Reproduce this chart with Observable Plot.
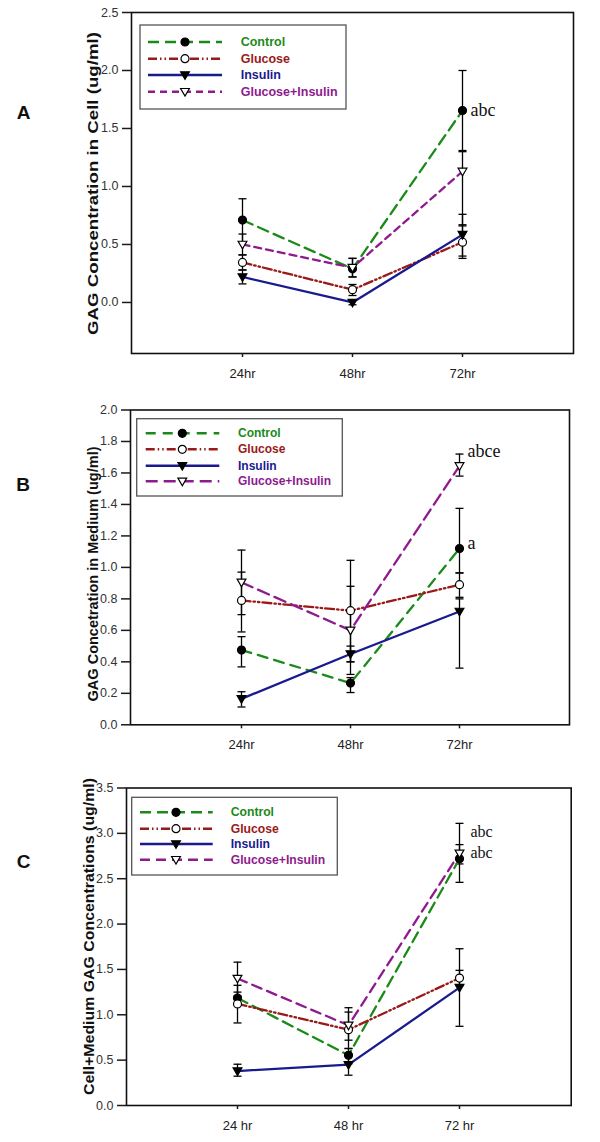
<!DOCTYPE html>
<html><head><meta charset="utf-8">
<script src="https://cdn.jsdelivr.net/npm/d3@7"></script>
<script src="https://cdn.jsdelivr.net/npm/@observablehq/plot@0.6"></script>
<style>
body{margin:0;background:#fff;font-family:Arial,"Liberation Sans",sans-serif;}
#page{position:relative;width:600px;height:1142px;overflow:hidden;background:#fff;}
.panel{position:absolute;left:0;}
.letter{position:absolute;font:bold 19px Arial,"Liberation Sans",sans-serif;color:#111;transform:translate(-50%,-50%);}
</style></head><body><div id="page"></div>
<script>
// ---------- DATA ----------
const groups = ["Control", "Glucose", "Insulin", "Glucose+Insulin"];
const timesAB = ["24hr", "48hr", "72hr"];
const timesC = ["24 hr", "48 hr", "72 hr"];

// Panel A: GAG in cell (rows = groups, cols = times)
const cellMean = [[0.71, 0.29, 1.655], [0.345, 0.11, 0.52], [0.22, 0.0, 0.585], [0.50, 0.30, 1.13]];
const cellLow  = [[0.52, 0.22, 1.31], [0.28, 0.06, 0.38], [0.16, -0.02, 0.40], [0.41, 0.22, 0.66]];
const cellHigh = [[0.894, 0.38, 2.0], [0.41, 0.155, 0.67], [0.28, 0.02, 0.76], [0.59, 0.38, 1.30]];
const cellNotes = [{time: "72hr", value: 1.655, label: "abc"}];

// Panel B: GAG in medium
const medMean = [[0.475, 0.265, 1.12], [0.79, 0.725, 0.89], [0.165, 0.45, 0.72], [0.905, 0.60, 1.645]];
const medLow  = [[0.368, 0.205, 0.965], [0.59, 0.40, 0.81], [0.113, 0.40, 0.36], [0.70, 0.32, 1.58]];
const medHigh = [[0.56, 0.30, 1.375], [0.97, 1.045, 0.965], [0.21, 0.50, 0.80], [1.11, 0.88, 1.72]];
const medNotes = [{time: "72hr", value: 1.74, label: "abce"}, {time: "72hr", value: 1.155, label: "a"}];

// Panel C: cell + medium
const totMean = [[1.185, 0.554, 2.72], [1.12, 0.836, 1.405], [0.38, 0.45, 1.30], [1.40, 0.884, 2.78]];
const totLow  = [[1.12, 0.46, 2.663], [0.91, 0.63, 1.32], [0.323, 0.334, 0.873], [1.207, 0.72, 2.46]];
const totHigh = [[1.25, 0.627, 2.876], [1.325, 1.03, 1.49], [0.455, 0.56, 1.728], [1.58, 1.078, 3.11]];
const totNotes = [{time: "72 hr", value: 3.015, label: "abc"}, {time: "72 hr", value: 2.79, label: "abc"}];

const ticksA = [0, 0.5, 1.0, 1.5, 2.0, 2.5];
const ticksB = [0, 0.2, 0.4, 0.6, 0.8, 1.0, 1.2, 1.4, 1.6, 1.8, 2.0];
const ticksC = [0, 0.5, 1.0, 1.5, 2.0, 2.5, 3.0, 3.5];

// ---------- STYLE ----------
const downTri = {draw(ctx, size) { const r = Math.sqrt(size / Math.PI); const w = r * 1.1, h1 = r * 0.8, h2 = r * 1.1;
  ctx.moveTo(-w, -h1); ctx.lineTo(w, -h1); ctx.lineTo(0, h2); ctx.closePath(); }};
const capSym = {draw(ctx, size) { const r = Math.sqrt(size / Math.PI); ctx.moveTo(-r, 0); ctx.lineTo(r, 0); }};
const gStyle = {
  "Control":         {color: "#1b8a1b", symbol: "circle", fill: "#000"},
  "Glucose":         {color: "#9a1a1a", symbol: "circle", fill: "#fff"},
  "Insulin":         {color: "#1a1a8f", symbol: downTri, fill: "#000"},
  "Glucose+Insulin": {color: "#8e1b8e", symbol: downTri, fill: "#fff"}
};
const FONT = 'Arial, "Liberation Sans", sans-serif';

function build(times, mean, low, high) {
  const rows = [];
  groups.forEach((g, i) => times.forEach((t, j) => rows.push({group: g, time: t, value: mean[i][j], lo: low[i][j], hi: high[i][j]})));
  return rows;
}

const page = document.getElementById("page");

function panel(cfg) {
  const rows = build(cfg.times, cfg.mean, cfg.low, cfg.high);
  const marks = [
    Plot.frame({stroke: "#111", strokeWidth: 1.6}),
    Plot.axisX({tickSize: 4, tickPadding: 11, fontSize: 13, label: null, strokeWidth: 1.5, fill: "#222"}),
    Plot.axisY({ticks: cfg.yTicks, tickFormat: d3.format(".1f"), tickSize: 9, tickPadding: 4, fontSize: 12.5, label: null, strokeWidth: 1.5, fill: "#333"}),
    Plot.ruleX(rows, {x: "time", y1: "lo", y2: "hi", stroke: "#000", strokeWidth: 1.3}),
    Plot.dot(rows, {x: "time", y: "lo", symbol: capSym, r: 4, stroke: "#000", fill: "none", strokeWidth: 1.3}),
    Plot.dot(rows, {x: "time", y: "hi", symbol: capSym, r: 4, stroke: "#000", fill: "none", strokeWidth: 1.3})
  ];
  groups.forEach(g => marks.push(Plot.line(rows.filter(r => r.group === g),
    {x: "time", y: "value", stroke: gStyle[g].color, strokeWidth: 2.3, strokeDasharray: cfg.dashes[g]})));
  groups.forEach(g => marks.push(Plot.dot(rows.filter(r => r.group === g),
    {x: "time", y: "value", symbol: gStyle[g].symbol, r: 4, fill: gStyle[g].fill, stroke: "#000", strokeWidth: 1.2})));
  marks.push(Plot.text(cfg.notes, {x: "time", y: "value", text: "label", dx: cfg.noteDx, textAnchor: "start", lineAnchor: "middle",
    fontFamily: '"Times New Roman", "Liberation Serif", serif', fontSize: cfg.noteSize, fill: "#111"}));

  const svg = Plot.plot({
    width: 600, height: cfg.height,
    marginTop: cfg.mTop, marginBottom: cfg.mBottom, marginLeft: cfg.mLeft, marginRight: cfg.mRight,
    style: {fontFamily: FONT, color: "#1a1a1a", background: "transparent", overflow: "visible"},
    x: {type: "point", domain: cfg.times, padding: 1, label: null},
    y: {domain: cfg.yDomain, label: null},
    marks
  });
  svg.classList.add("panel");
  svg.style.top = cfg.top + "px";
  const s = d3.select(svg);
  // y-axis title
  s.append("text")
    .attr("transform", `translate(${cfg.titleX},${cfg.titleY - cfg.top}) rotate(-90)`)
    .attr("text-anchor", "middle").attr("dominant-baseline", "central")
    .attr("font-weight", "bold").attr("font-size", cfg.titleSize).attr("fill", "#111")
    .attr("textLength", cfg.titleLen).attr("lengthAdjust", "spacingAndGlyphs")
    .text(cfg.title);
  // legend
  const L = cfg.legend, g = s.append("g").attr("transform", `translate(0,${-cfg.top})`);
  g.append("rect").attr("x", L.x0).attr("y", L.y0).attr("width", L.x1 - L.x0).attr("height", L.y1 - L.y0)
    .attr("fill", "#fff").attr("stroke", "#555").attr("stroke-width", 1.3);
  groups.forEach((name, i) => {
    const y = L.ys[i], st = gStyle[name];
    g.append("line").attr("x1", L.lx0).attr("x2", L.lx1).attr("y1", y).attr("y2", y)
      .attr("stroke", st.color).attr("stroke-width", 2.5).attr("stroke-dasharray", cfg.dashes[name] || null);
    g.append("path").attr("transform", `translate(${L.mx},${y})`)
      .attr("d", d3.symbol().type(st.symbol === "circle" ? d3.symbolCircle : st.symbol).size(Math.PI * 16)())
      .attr("fill", st.fill).attr("stroke", "#000").attr("stroke-width", 1.2);
    g.append("text").attr("x", L.tx).attr("y", y).attr("dominant-baseline", "central").attr("text-anchor", "start")
      .attr("font-weight", "bold").attr("font-size", L.fs).attr("fill", st.color).text(name);
  });
  page.appendChild(svg);
  const lt = document.createElement("div");
  lt.className = "letter"; lt.textContent = cfg.letter;
  lt.style.left = cfg.letterX + "px"; lt.style.top = cfg.letterY + "px";
  page.appendChild(lt);
}

panel({
  letter: "A", letterX: 23.5, letterY: 112.5,
  top: 0, height: 385, mTop: 12, mBottom: 32, mLeft: 131, mRight: 27,
  times: timesAB, mean: cellMean, low: cellLow, high: cellHigh, notes: cellNotes, noteDx: 8, noteSize: 18,
  yDomain: [-0.44, 2.5], yTicks: ticksA,
  dashes: {"Control": "11,6", "Glucose": "9,3,1.5,3,1.5,3", "Insulin": null, "Glucose+Insulin": "7,5"},
  title: "GAG Concentration in Cell (ug/ml)", titleX: 92.5, titleY: 183.5, titleSize: 15, titleLen: 303,
  legend: {x0: 140, x1: 346, y0: 25, y1: 109, ys: [42, 58.7, 75, 91.7], lx0: 148, lx1: 222, mx: 185, tx: 240.7, fs: 12.5}
});
panel({
  letter: "B", letterX: 23, letterY: 484.5,
  top: 385, height: 372, mTop: 24.5, mBottom: 32.7, mLeft: 130, mRight: 31,
  times: timesAB, mean: medMean, low: medLow, high: medHigh, notes: medNotes, noteDx: 8, noteSize: 18,
  yDomain: [0, 2.0], yTicks: ticksB,
  dashes: {"Control": "10,7", "Glucose": "9,3,1.5,3,1.5,3", "Insulin": null, "Glucose+Insulin": "12,6"},
  title: "GAG Concetration in Medium (ug/ml)", titleX: 93, titleY: 574, titleSize: 14, titleLen: 255,
  legend: {x0: 136.7, x1: 342.3, y0: 418.7, y1: 496, ys: [433.3, 449.3, 465.7, 481.3], lx0: 145.7, lx1: 219.3, mx: 182.3, tx: 238, fs: 12}
});
panel({
  letter: "C", letterX: 23.5, letterY: 862,
  top: 757, height: 385, mTop: 30.5, mBottom: 37, mLeft: 126, mRight: 29.3,
  times: timesC, mean: totMean, low: totLow, high: totHigh, notes: totNotes, noteDx: 11, noteSize: 16,
  yDomain: [0, 3.5], yTicks: ticksC,
  dashes: {"Control": "11,6", "Glucose": "9,3,1.5,3,1.5,3", "Insulin": null, "Glucose+Insulin": "10,6"},
  title: "Cell+Medium GAG Concentrations (ug/ml)", titleX: 88, titleY: 936.5, titleSize: 15, titleLen: 317,
  legend: {x0: 131.7, x1: 337.3, y0: 797.3, y1: 875, ys: [812.3, 828.7, 844, 859.7], lx0: 140, lx1: 212.7, mx: 176, tx: 230.7, fs: 12.2}
});
</script></body></html>
